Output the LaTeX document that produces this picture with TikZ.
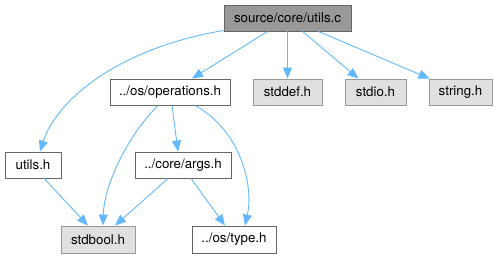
\documentclass[tikz,border=0pt]{standalone}
\usepackage{fontspec}
\setmainfont{TeX Gyre Heros}
\usetikzlibrary{arrows.meta,calc}
\definecolor{edgeblue}{HTML}{63B8FF}
\definecolor{rootfill}{HTML}{999999}
\definecolor{sysfill}{HTML}{E0E0E0}
\tikzset{
  box/.style={draw=black!60, line width=0.9pt, minimum height=26pt, inner sep=0pt,
    font=\fontsize{13.3}{15}\selectfont, text=black},
  rootbox/.style={box, fill=rootfill},
  sysbox/.style={box, draw=rootfill, fill=sysfill},
  userbox/.style={box, fill=white},
  dep/.style={draw=edgeblue, line width=0.9pt,
    -{Triangle[length=11pt,width=9pt]}},
}
\begin{document}
\begin{tikzpicture}[x=1pt,y=-1pt]
  \useasboundingbox (0,0) rectangle (498,257);
  % header nodes
  \node[rootbox, minimum width=127pt] (root) at (287.5,18) {source/core/utils.c};
  \node[userbox, minimum width=120pt] (ops) at (170,92) {../os/operations.h};
  \node[sysbox, minimum width=69pt] (stddef) at (287.5,92) {stddef.h};
  \node[sysbox, minimum width=61pt] (stdio) at (375.5,92) {stdio.h};
  \node[sysbox, minimum width=63pt] (string) at (460.5,92) {string.h};
  \node[userbox, minimum width=56pt] (utilsh) at (33,165) {utils.h};
  \node[userbox, minimum width=96pt] (args) at (183,165) {../core/args.h};
  \node[sysbox, minimum width=74pt, minimum height=27pt] (stdbool) at (98,239.5) {stdbool.h};
  \node[userbox, minimum width=84pt, minimum height=27pt] (type) at (234,239.5) {../os/type.h};
  % include edges
  \draw[dep] ($(root.south west)+(0,-1)$) .. controls (110,50) and (55,105) .. ($(utilsh.north)+(7,0)$);
  \draw[dep] ($(root.south)+(-20,0)$) -- ($(ops.north)+(22,0)$);
  \draw[dep] (root.south) -- (stddef.north);
  \draw[dep] ($(root.south)+(15,0)$) -- ($(stdio.north)+(-17,0)$);
  \draw[dep] ($(root.south)+(31,0)$) -- ($(string.north)+(-31,0)$);
  \draw[dep] ($(ops.south)+(-12,0)$) .. controls (128,135) and (104,185) .. ($(stdbool.north)+(5,0)$);
  \draw[dep] ($(ops.south)+(2,0)$) -- ($(args.north)+(-5,0)$);
  \draw[dep] ($(ops.south)+(25,0)$) .. controls (240,130) and (254,185) .. ($(type.north)+(11,0)$);
  \draw[dep] ($(args.south)+(-15,0)$) -- ($(stdbool.north)+(17,0)$);
  \draw[dep] ($(args.south)+(8,0)$) -- ($(type.north)+(-9,0)$);
  \draw[dep] ($(utilsh.south)+(11,0)$) -- ($(stdbool.north)+(-10,0)$);
\end{tikzpicture}
\end{document}
